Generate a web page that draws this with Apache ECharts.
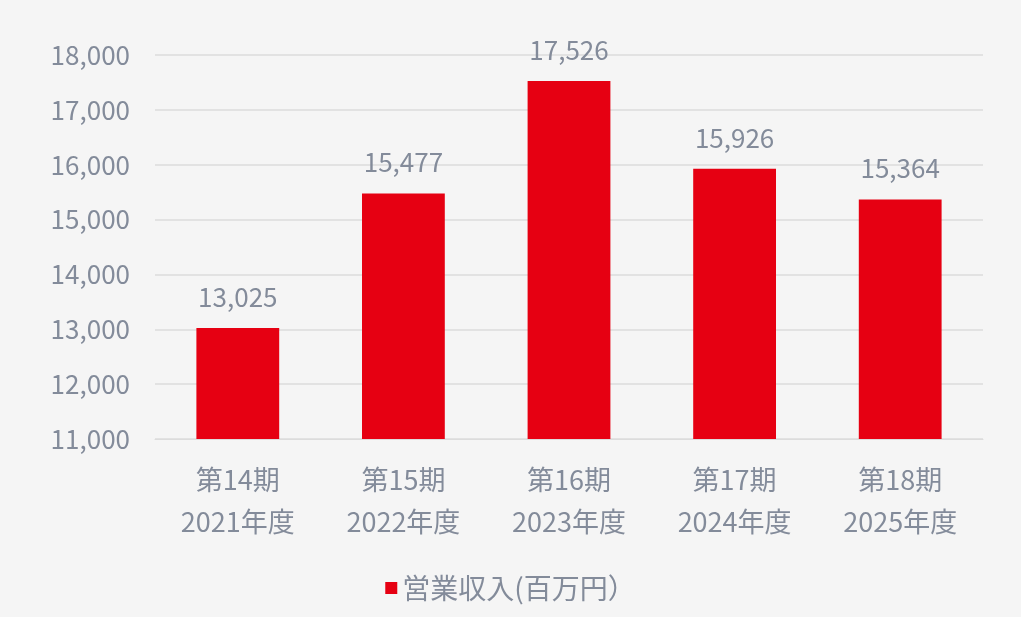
<!DOCTYPE html>
<html>
<head>
<meta charset="utf-8">
<script src="https://cdn.jsdelivr.net/npm/echarts@6/dist/echarts.min.js"></script>
<style>
  html, body { margin: 0; padding: 0; background: #f5f5f5; }
  #chart { width: 1021px; height: 617px; }
</style>
</head>
<body>
<div id="chart"></div>
<script>
// 期・年度
var categories = ['第14期\n2021年度', '第15期\n2022年度', '第16期\n2023年度', '第17期\n2024年度', '第18期\n2025年度'];
// 営業収入(百万円)
var revenue = [13025, 15477, 17526, 15926, 15364];
var seriesName = '営業収入(百万円）';

var font = '"Noto Sans CJK JP", "Noto Sans", sans-serif';
var textColor = '#838b9a';

var chart = echarts.init(document.getElementById('chart'));
chart.setOption({
  backgroundColor: '#f5f5f5',
  textStyle: { fontFamily: font },
  grid: { left: 155, right: 38, top: 55, bottom: 178 },
  legend: {
    bottom: 10,
    left: 'center',
    itemWidth: 12,
    itemHeight: 12,
    icon: 'rect',
    itemGap: 8,
    textStyle: { color: textColor, fontSize: 28, fontFamily: font },
    data: [seriesName]
  },
  xAxis: {
    type: 'category',
    data: categories,
    axisTick: { show: false },
    axisLine: { lineStyle: { color: '#dcdcdc' } },
    axisLabel: { color: textColor, fontSize: 27, lineHeight: 42, margin: 20, fontFamily: font }
  },
  yAxis: {
    type: 'value',
    min: 11000,
    max: 18000,
    interval: 1000,
    axisLine: { show: false },
    axisTick: { show: false },
    splitLine: { lineStyle: { color: '#e2e2e2', width: 2 } },
    axisLabel: {
      color: textColor, fontSize: 26, margin: 25, fontFamily: font,
      formatter: function (v) { return v.toLocaleString('en-US'); }
    }
  },
  series: [{
    name: seriesName,
    type: 'bar',
    data: revenue,
    barWidth: '50%',
    itemStyle: { color: '#e60012' },
    label: {
      show: true,
      position: 'top',
      distance: 18,
      color: textColor,
      fontSize: 26,
      fontFamily: font,
      formatter: function (p) { return p.value.toLocaleString('en-US'); }
    }
  }]
});
</script>
</body>
</html>
